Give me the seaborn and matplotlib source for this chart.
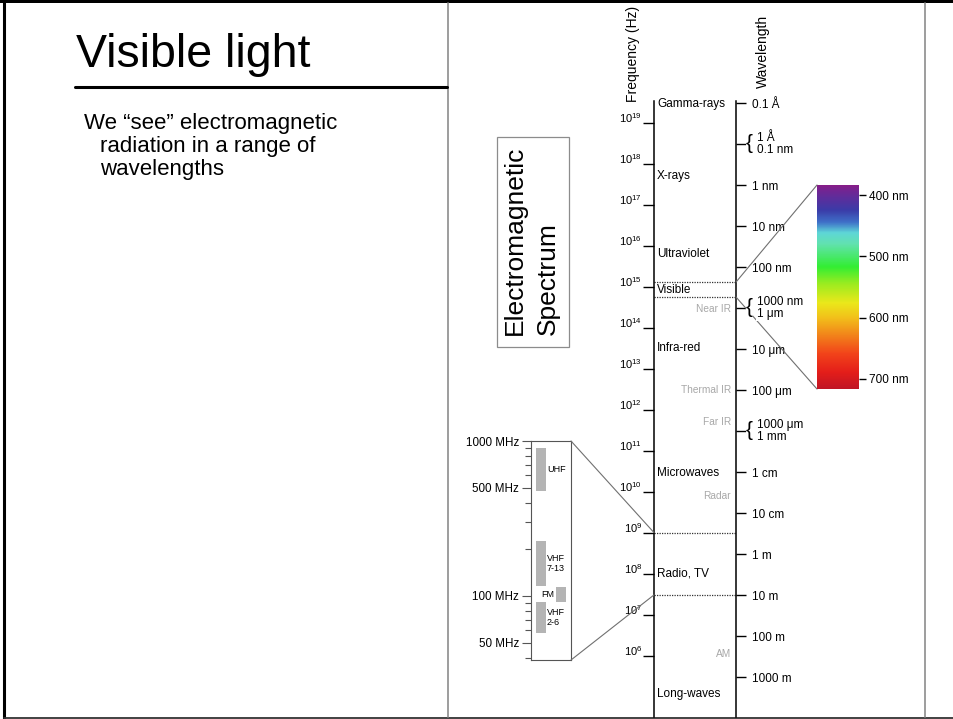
import numpy as np
import matplotlib
matplotlib.use("Agg")
import matplotlib.pyplot as plt
import seaborn as sns
from matplotlib.colors import LinearSegmentedColormap
from matplotlib.patches import ConnectionPatch, Rectangle
from matplotlib.ticker import NullLocator, NullFormatter

sns.set_theme(style="white", rc={"text.color": "black", "xtick.color": "black",
                                 "ytick.color": "black", "axes.edgecolor": "black"})
plt.rcParams["font.family"] = ["Liberation Sans", "DejaVu Sans"]
plt.rcParams["mathtext.fontset"] = "custom"
plt.rcParams["mathtext.rm"] = "Liberation Sans"
plt.rcParams["mathtext.it"] = "Liberation Sans:italic"
plt.rcParams["mathtext.bf"] = "Liberation Sans:bold"

W, H = 954, 719
C = 3e8  # m/s, wavelength ticks sit at c / lambda

# ---- values ----
freq_exp = [6, 7, 8, 9, 10, 11, 12, 13, 14, 15, 16, 17, 18, 19]

band_names = ["Gamma-rays", "X-rays", "Ultraviolet", "Visible", "Infra-red",
              "Microwaves", "Radio, TV", "Long-waves"]
band_logf = [19.45, 17.70, 15.80, 14.92, 13.50, 10.45, 8.01, 5.06]

sub_names = ["Near IR", "Thermal IR", "Far IR", "Radar", "AM"]
sub_logf = [14.45, 12.475, 11.70, 9.89, 6.04]

wave_m = [1e-11, 1e-10, 1e-9, 1e-8, 1e-7, 1e-6, 1e-5, 1e-4, 1e-3,
          1e-2, 1e-1, 1, 10, 100, 1000]
wave_lbl = ["0.1 Å", "1 Å\n0.1 nm", "1 nm", "10 nm", "100 nm", "1000 nm\n1 μm",
            "10 μm", "100 μm", "1000 μm\n1 mm", "1 cm", "10 cm", "1 m", "10 m",
            "100 m", "1000 m"]

visible_logf = [15.11, 14.746]   # dotted lines around "Visible"
radio_logf = [9.0, 7.48]         # edges of the TV / radio zoom

tv_names = ["UHF", "VHF\n7-13", "FM", "VHF\n2-6"]
tv_lo = [476, 116, 91, 58]       # MHz
tv_hi = [900, 226, 114, 91]
tv_col = [0, 0, 1, 0]
mhz_major = [50, 100, 500, 1000]
mhz_minor = [40, 60, 70, 80, 90, 200, 300, 400, 600, 700, 800, 900]

vis_nm = [383, 395, 425, 445, 462, 480, 518, 545, 577, 600, 626, 660, 690, 717]
vis_hex = ["#8b1c86", "#6f2795", "#3b3ba8", "#3f70c8", "#5ed6d8", "#62e2b0",
           "#33ee33", "#9aec20", "#ebe81b", "#f2c21a", "#f38b1b", "#f2431a",
           "#e41e1a", "#c01525"]
vis_ticks = [400, 500, 600, 700]


def rect(x0, y0, x1, y1):
    return [x0 / W, 1 - y1 / H, (x1 - x0) / W, (y1 - y0) / H]


fig = plt.figure(figsize=(W / 100, H / 100), dpi=100)

# slide background, frame and text
bg = fig.add_axes([0, 0, 1, 1], zorder=-5)
bg.set_xlim(0, W)
bg.set_ylim(H, 0)
bg.axis("off")
bg.add_patch(Rectangle((0, 0), W, 3, color="black", lw=0))
bg.plot([4, 4], [0, H], color="black", lw=2.2)
bg.plot([4, W], [717.6, 717.6], color="#333333", lw=1.3)
bg.plot([448.5, 448.5], [3, 717], color="#8c8c8c", lw=1.2)
bg.plot([925, 925], [3, 717], color="#8c8c8c", lw=1.2)
bg.plot([75, 447], [87, 87], color="black", lw=2.2)
bg.text(76, 67, "Visible light", fontsize=33.5, va="baseline", ha="left")
bg.text(84, 129, "We “see” electromagnetic", fontsize=16, va="baseline")
bg.text(100, 152, "radiation in a range of", fontsize=16, va="baseline")
bg.text(100, 175, "wavelengths", fontsize=16, va="baseline")
bg.add_patch(Rectangle((497, 137), 72, 210, fill=False, ec="#8c8c8c", lw=0.9))
bg.text(515, 335, "Electromagnetic", rotation=90, fontsize=19, ha="center", va="bottom")
bg.text(548, 335, "Spectrum", rotation=90, fontsize=19, ha="center", va="bottom")
bg.text(633, 102, "Frequency (Hz)", rotation=90, fontsize=10, ha="center", va="bottom")
bg.text(763, 88, "Wavelength", rotation=90, fontsize=10, ha="center", va="bottom")

# main spectrum column: y is frequency on a log scale
Y19, DEC = 122.6, 41.0
TOP, BOT = 101, 717


def logf_at(y):
    return 19 - (y - Y19) / DEC


ax = fig.add_axes(rect(654, TOP, 736, BOT))
ax.set_yscale("log")
ax.set_ylim(10 ** logf_at(BOT), 10 ** logf_at(TOP))
ax.set_xlim(0, 1)
ax.patch.set_alpha(0)
ax.set_yticks([10.0 ** e for e in freq_exp], labels=[f"$10^{{{e}}}$" for e in freq_exp])
ax.yaxis.set_minor_locator(NullLocator())
ax.set_xticks([])
ax.tick_params(axis="y", left=True, right=False, direction="out", length=8,
               width=1, pad=0.5, labelsize=8)
for lab in ax.get_yticklabels():
    lab.set_va("baseline")
for s in ["top", "bottom"]:
    ax.spines[s].set_visible(False)
for s in ["left", "right"]:
    ax.spines[s].set_linewidth(1.1)
    ax.spines[s].set_color("black")

ytr = ax.get_yaxis_transform()
for name, lf in zip(band_names, band_logf):
    ax.annotate(name, xy=(0, 10 ** lf), xycoords=ytr, xytext=(2.2, 0),
                textcoords="offset points", ha="left", va="center", fontsize=8.5)
for name, lf in zip(sub_names, sub_logf):
    ax.annotate(name, xy=(1, 10 ** lf), xycoords=ytr, xytext=(-3.6, 0),
                textcoords="offset points", ha="right", va="center",
                fontsize=7.3, color="#a8a8a8")
ax.hlines([10 ** lf for lf in visible_logf + radio_logf], 0, 1, colors="#333333",
          linestyles=(0, (1, 1)), lw=0.9)

# wavelength side
axw = ax.twinx()
axw.set_yscale("log")
axw.set_ylim(ax.get_ylim())
axw.patch.set_alpha(0)
for s in axw.spines.values():
    s.set_visible(False)
wave_f = [C / w for w in wave_m]
axw.set_yticks(wave_f, labels=["" if "\n" in l else l for l in wave_lbl])
axw.yaxis.set_minor_locator(NullLocator())
axw.tick_params(axis="y", right=True, left=False, direction="out", length=7,
                width=1, pad=4.5, labelsize=8.5)
for lab in axw.get_yticklabels():
    lab.set_bbox(dict(fc="white", ec="none", pad=0.4))
wtr = axw.get_yaxis_transform()
for f, l in zip(wave_f, wave_lbl):
    if "\n" not in l:
        continue
    axw.annotate("{", xy=(1, f), xycoords=wtr, xytext=(7.3, 0.5), textcoords="offset points",
                 ha="left", va="center", fontsize=15,
                 bbox=dict(fc="white", ec="none", pad=0.2))
    axw.annotate(l, xy=(1, f), xycoords=wtr, xytext=(15, 0), textcoords="offset points",
                 ha="left", va="center", fontsize=8.5, linespacing=1.0,
                 bbox=dict(fc="white", ec="none", pad=0.4))

# visible spectrum bar
lo_nm, hi_nm = 383.6, 716.4
axc = fig.add_axes(rect(817, 185, 859, 389))
cmap = LinearSegmentedColormap.from_list(
    "visible", [((n - vis_nm[0]) / (vis_nm[-1] - vis_nm[0]), c) for n, c in zip(vis_nm, vis_hex)])
grid = np.linspace(lo_nm, hi_nm, 400)
axc.imshow(grid[:, None], cmap=cmap, vmin=vis_nm[0], vmax=vis_nm[-1], aspect="auto",
           extent=(0, 1, hi_nm, lo_nm))
axc.set_ylim(hi_nm, lo_nm)
axc.set_xticks([])
axc.yaxis.tick_right()
axc.set_yticks(vis_ticks, labels=[f"{t} nm" for t in vis_ticks])
axc.tick_params(axis="y", right=True, left=False, length=5, width=1, pad=2.5, labelsize=8.5)
for s in axc.spines.values():
    s.set_visible(False)

con = ConnectionPatch(xyA=(0, 1), coordsA=axc.transAxes, xyB=(1, 10 ** visible_logf[0]),
                      coordsB=ytr, color="#707070", lw=0.8, clip_on=False)
fig.add_artist(con)
con = ConnectionPatch(xyA=(0, 0), coordsA=axc.transAxes, xyB=(1, 10 ** visible_logf[1]),
                      coordsB=ytr, color="#707070", lw=0.8, clip_on=False, zorder=1)
axw.add_artist(con)

# TV / radio inset
axi = fig.add_axes(rect(531, 441, 571, 660))
axi.set_yscale("log")
axi.set_ylim(38.6, 1000)
axi.set_xlim(0, 1)
xs = [0.25 if c == 0 else 0.75 for c in tv_col]
axi.bar(xs, [h - l for l, h in zip(tv_lo, tv_hi)], bottom=tv_lo, width=0.25,
        color="#b4b4b4", linewidth=0)
for name, l, h, c in zip(tv_names, tv_lo, tv_hi, tv_col):
    mid = np.sqrt(l * h)
    if c == 0:
        axi.text(0.4, mid, name, ha="left", va="center", fontsize=6.5, linespacing=1.05)
    else:
        axi.text(0.58, mid, name, ha="right", va="center", fontsize=6.5)
axi.set_xticks([])
axi.set_yticks(mhz_major, labels=[f"{v} MHz" for v in mhz_major])
axi.set_yticks(mhz_minor, minor=True)
axi.yaxis.set_minor_formatter(NullFormatter())
axi.tick_params(axis="y", which="major", left=True, length=6.5, width=0.8,
                color="#555555", labelsize=8.4, pad=2)
axi.tick_params(axis="y", which="minor", left=True, length=4.3, width=0.8, color="#555555")
for s in axi.spines.values():
    s.set_color("#555555")
    s.set_linewidth(0.8)

for ya, lf in zip([1, 0], radio_logf):
    con = ConnectionPatch(xyA=(1, ya), coordsA=axi.transAxes, xyB=(0, 10 ** lf),
                          coordsB=ytr, color="#707070", lw=0.8, clip_on=False)
    fig.add_artist(con)

fig.savefig("out.png", dpi=100)
